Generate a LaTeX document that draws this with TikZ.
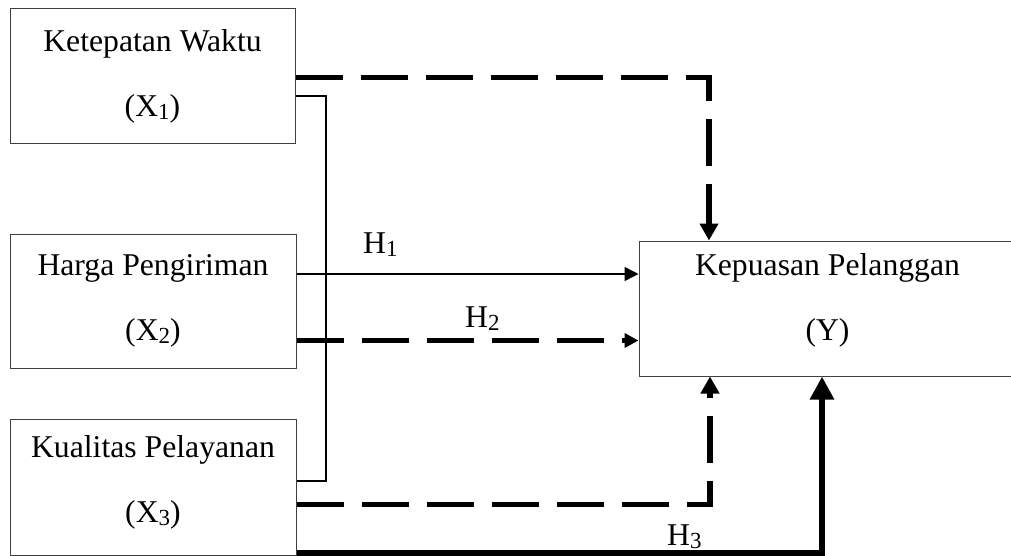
\documentclass[tikz,border=0pt]{standalone}
\usepackage{fontspec}
\setmainfont{Liberation Serif}
\usetikzlibrary{arrows.meta}
\newcommand{\lblfont}{\fontsize{31.7}{65}\selectfont}
\newcommand{\subidx}[1]{\raisebox{-3pt}{\fontsize{23}{23}\selectfont #1}}
\tikzset{
  box/.style={draw=black!75, line width=1pt, inner sep=0pt, align=center, font=\lblfont},
  hlabel/.style={inner sep=0pt, font=\lblfont, anchor=base west},
  thinline/.style={line width=1.5pt, line join=miter},
  tdash/.style={line width=5.5pt, dash pattern=on 47pt off 18pt, line join=miter},
  tsolid/.style={line width=6pt, line join=miter},
  tipS/.style={-{Triangle[length=14pt,width=14pt]}},
  tipD/.style={-{Triangle[length=17pt,width=18pt]}},
  tipT/.style={-{Triangle[length=23pt,width=23pt]}}
}
\begin{document}
\begin{tikzpicture}[x=1pt,y=-1pt]
\useasboundingbox (0,0) rectangle (1011,556);
\node[box, minimum width=285pt, minimum height=135pt] (x1) at (152.5,76.5) {Ketepatan Waktu\\(X\subidx{1})};
\node[box, minimum width=286pt, minimum height=134pt] (x2) at (153,301) {Harga Pengiriman\\(X\subidx{2})};
\node[box, minimum width=286pt, minimum height=136pt, text depth=17pt] (x3) at (153,487) {Kualitas Pelayanan\\(X\subidx{3})};
\node[box, minimum width=377pt, minimum height=135pt, text depth=22pt] (y) at (827.5,308.5) {Kepuasan Pelanggan\\(Y)};
\coordinate (bx) at (326,0);
% bracket
\draw[thinline] (x1.east |- 0,96) -- (bx |- 0,96) -- (bx |- 0,481) -- (x3.east |- 0,481);
% X1 -> Y
\draw[tdash, tipD] (x1.east |- 0,77.5) -- (709,77.5) -- (y.north -| 709,0);
% H1
\draw[thinline, tipS] (x2.east |- 0,274) -- (y.west |- 0,274);
% H2
\draw[tdash, tipS] (x2.east |- 0,340.5) -- (y.west |- 0,340.5);
% X3 dashed
\draw[tdash, tipD] (x3.east |- 0,504.5) -- (710,504.5) -- (y.south -| 710,0);
% H3 solid
\draw[tsolid, tipT] (x3.east |- 0,553) -- (822,553) -- (y.south -| 822,0);
\node[hlabel] (h1) at (363,253) {H\subidx{1}};
\node[hlabel] (h2) at (465,327) {H\subidx{2}};
\node[hlabel] (h3) at (667,545) {H\subidx{3}};
\end{tikzpicture}
\end{document}
